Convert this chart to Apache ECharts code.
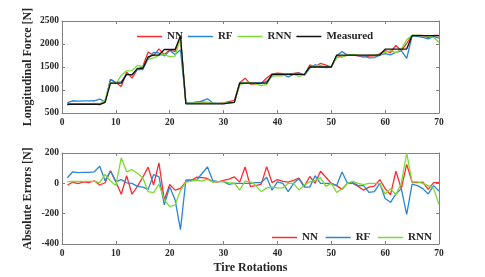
<!DOCTYPE html>
<html>
<head>
<meta charset="utf-8">
<script src="https://cdn.jsdelivr.net/npm/echarts@6/dist/echarts.min.js"></script>
<style>html,body{margin:0;padding:0;background:#fff}#c{width:485px;height:277px}</style>
</head>
<body>
<div id="c"></div>
<script>
const rotations = [1,2,3,4,5,6,7,8,9,10,11,12,13,14,15,16,17,18,19,20,21,22,23,24,25,26,27,28,29,30,31,32,33,34,35,36,37,38,39,40,41,42,43,44,45,46,47,48,49,50,51,52,53,54,55,56,57,58,59,60,61,62,63,64,65,66,67,68,69,70];
const measured = [690,690,690,690,690,690,690,730,1150,1150,1150,1340,1330,1470,1470,1720,1760,1760,1880,1880,1880,2180,700,700,700,700,700,700,700,700,720,730,1150,1150,1150,1150,1150,1150,1340,1340,1340,1340,1340,1340,1340,1500,1500,1500,1500,1500,1760,1760,1760,1760,1760,1760,1760,1760,1760,1890,1890,1890,1890,1890,2180,2180,2180,2180,2180,2180];
const nnPred = [679,697,688,699,694,707,679,734,1233,1161,1078,1390,1258,1450,1510,1827,1749,1895,1770,1872,1835,2147,711,720,740,738,732,710,710,720,748,772,1158,1258,1128,1135,1145,1260,1345,1365,1353,1348,1360,1375,1320,1545,1500,1580,1540,1500,1745,1720,1760,1760,1740,1715,1735,1742,1785,1855,1815,1970,1855,2015,2188,2185,2188,2140,2185,2185];
const rfPred = [727,766,760,762,762,766,803,747,1231,1161,1175,1343,1330,1450,1445,1680,1817,1804,1738,1858,1771,1875,722,722,722,765,809,717,711,711,713,730,1150,1150,1150,1155,1155,1190,1295,1350,1340,1285,1340,1370,1315,1475,1550,1500,1500,1500,1745,1835,1760,1765,1745,1745,1700,1705,1760,1790,1765,1820,1855,1685,2175,2165,2145,2110,2165,2130];
const rnnPred = [701,702,702,703,703,703,694,789,1165,1135,1318,1416,1420,1536,1507,1665,1699,1753,1771,1727,1738,2133,708,715,722,715,726,708,711,712,725,732,1106,1165,1160,1135,1095,1120,1315,1310,1310,1340,1340,1295,1330,1510,1520,1538,1480,1500,1700,1725,1760,1773,1760,1752,1760,1760,1760,1820,1855,1815,1890,2090,2190,2190,2180,2165,2145,2040];
const nnErr = [-11,7,-2,9,4,17,-11,4,83,11,-72,50,-72,-20,40,107,-11,135,-110,-8,-45,-33,11,20,40,38,32,10,10,20,28,42,8,108,-22,-15,-5,110,5,25,13,8,20,35,-20,45,0,80,40,0,-15,-40,0,0,-20,-45,-25,-18,25,-35,-75,80,-35,125,8,5,8,-40,5,5];
const rfErr = [37,76,70,72,72,76,113,17,81,11,25,3,0,-20,-25,-40,57,44,-142,-22,-109,-305,22,22,22,65,109,17,11,11,-7,0,0,0,0,5,5,40,-45,10,0,-55,0,30,-25,-25,50,0,0,0,-15,75,0,5,-15,-15,-60,-55,0,-100,-125,-70,-35,-205,-5,-15,-35,-70,-15,-50];
const rnnErr = [11,12,12,13,13,13,4,59,15,-15,168,76,90,66,37,-55,-61,-7,-109,-153,-142,-47,8,15,22,15,26,8,11,12,5,2,-44,15,10,-15,-55,-30,-25,-30,-30,0,0,-45,-10,10,20,38,-20,0,-60,-35,0,13,0,-8,0,0,0,-70,-35,-75,0,200,10,10,0,-15,-35,-140];
const topNames = ['NN','RF','RNN','Measured'];
const botNames = ['NN','RF','RNN'];

const FONT = "'Liberation Serif','Times New Roman',serif";
const AX = '#808080';
const TXT = '#262626';
const COLORS = {NN:'#FF2B2B', RF:'#2A86D1', RNN:'#7ADB35', Measured:'#111111'};

function pairs(ys){ return rotations.map((x,i)=>[x, ys[i]]); }

function xAx(grid, bottom, showName){
  return {
    type:'value', gridIndex:grid, min:0, max:70, interval:10,
    position: bottom ? 'bottom' : 'top',
    axisLine:{show:true, onZero:false, lineStyle:{color:AX, width:1}},
    axisTick:{show:true, inside:true, length:3, lineStyle:{color:AX}},
    axisLabel:{show:bottom, color:TXT, fontFamily:FONT, fontWeight:'bold', fontSize:9.5, margin:5, formatter:v=>String(v)},
    splitLine:{show:false},
    name: showName ? 'Tire Rotations' : '',
    nameLocation:'middle', nameGap:18, nameMoveOverlap:false,
    nameTextStyle:{color:TXT, fontFamily:FONT, fontWeight:'bold', fontSize:12}
  };
}
function yAx(grid, left, min, max, interval, name){
  return {
    type:'value', gridIndex:grid, min:min, max:max, interval:interval,
    position: left ? 'left' : 'right',
    axisLine:{show:true, onZero:false, lineStyle:{color:AX, width:1}},
    axisTick:{show:true, inside:true, length:3, lineStyle:{color:AX}},
    axisLabel:{show:left, color:TXT, fontFamily:FONT, fontWeight:'bold', fontSize:9.5, margin:3, formatter:v=>String(v)},
    splitLine:{show:false},
    name: left ? name : '',
    nameLocation:'middle', nameGap:28, nameMoveOverlap:false,
    nameTextStyle:{color:TXT, fontFamily:FONT, fontWeight:'bold', fontSize:12}
  };
}

const topData = {NN:nnPred, RF:rfPred, RNN:rnnPred, Measured:measured};
const botData = {NN:nnErr, RF:rfErr, RNN:rnnErr};

const series = [];
topNames.forEach(n=>{
  series.push({type:'line', name:n, xAxisIndex:0, yAxisIndex:0, data:pairs(topData[n]),
    showSymbol:false, symbol:'none', lineStyle:{color:COLORS[n], width:1.3}, itemStyle:{color:COLORS[n]}, animation:false});
});
botNames.forEach(n=>{
  series.push({type:'line', name:n+' ', xAxisIndex:2, yAxisIndex:2, data:pairs(botData[n]),
    showSymbol:false, symbol:'none', lineStyle:{color:COLORS[n], width:1.3}, itemStyle:{color:COLORS[n]}, animation:false});
});

const legendText = {color:TXT, fontFamily:FONT, fontWeight:'bold', fontSize:11};
const option = {
  animation:false,
  backgroundColor:'#fff',
  grid:[
    {left:62, top:21, width:377, height:92},
    {left:62, top:153, width:377, height:91}
  ],
  xAxis:[ xAx(0,true,false), xAx(0,false,false), xAx(1,true,true), xAx(1,false,false) ],
  yAxis:[ yAx(0,true,500,2500,500,'Longitudinal Force [N]'), yAx(0,false,500,2500,500,''),
          yAx(1,true,-400,200,200,'Absolute Errors [N]'), yAx(1,false,-400,200,200,'') ],
  legend:[
    {data:topNames.map(n=>({name:n, icon:'rect'})), left:132, top:26, itemWidth:25, itemHeight:1.5, itemGap:5, textStyle:legendText, selectedMode:false},
    {data:botNames.map(n=>({name:n+' ', icon:'rect'})), left:267, top:227, itemWidth:25, itemHeight:1.5, itemGap:5, textStyle:legendText, selectedMode:false}
  ],
  series:series
};
const chart = echarts.init(document.getElementById('c'), null, {renderer:'canvas'});
chart.setOption(option);
</script>
</body>
</html>
